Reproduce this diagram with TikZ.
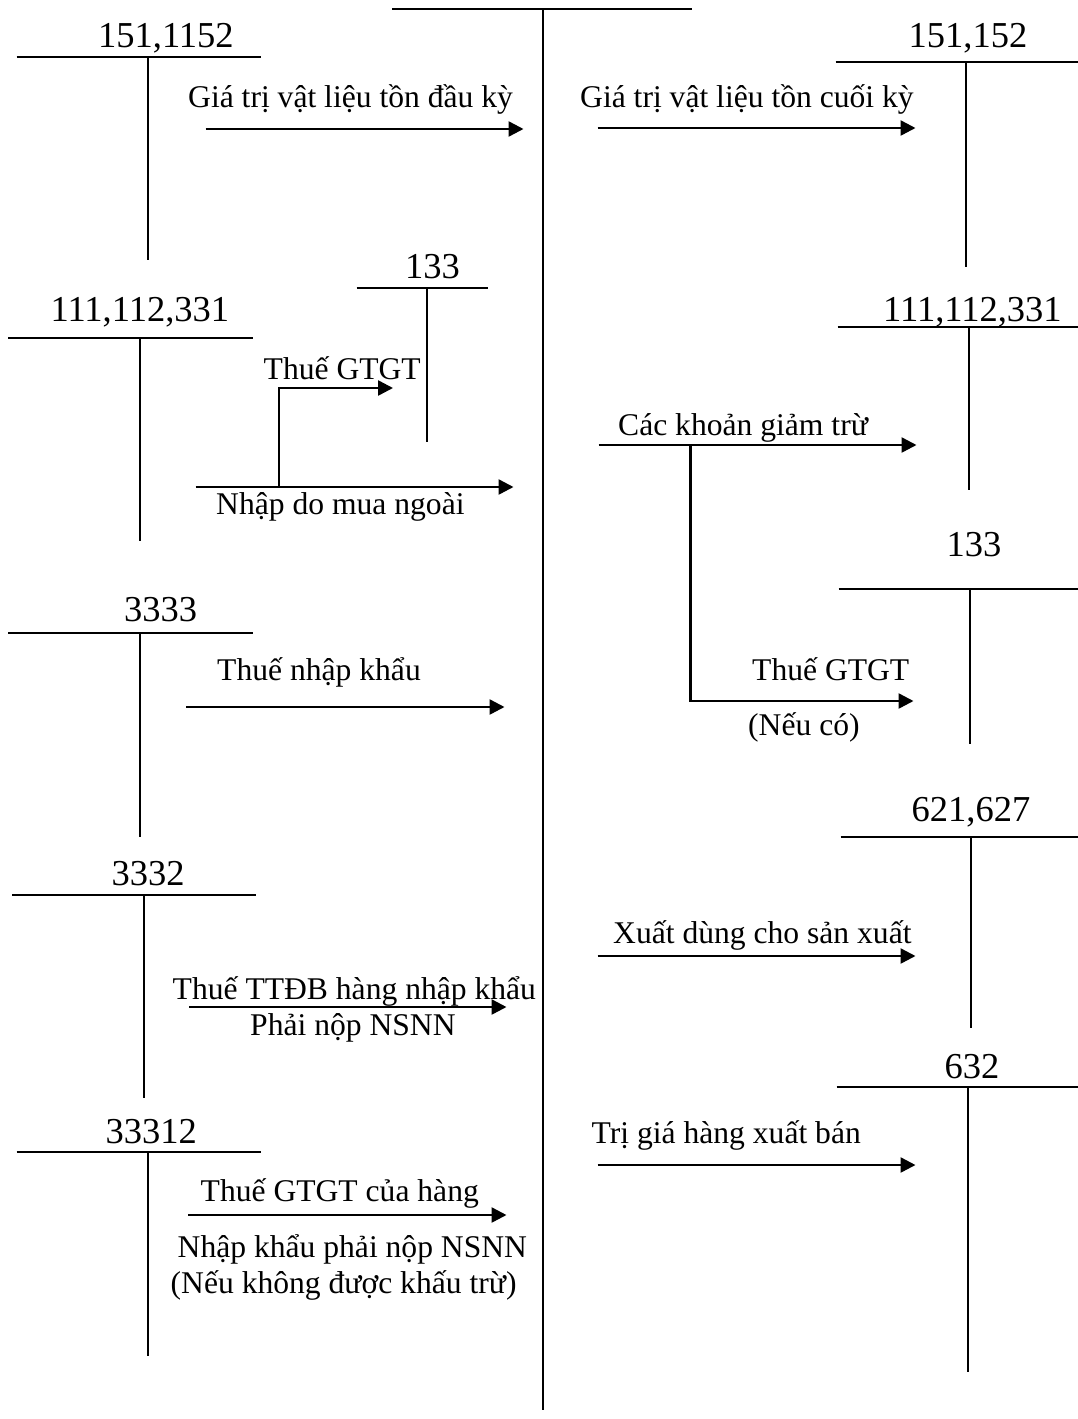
\documentclass[tikz,border=0pt]{standalone}
\usepackage{fontspec}
\setmainfont{Liberation Serif}
\usetikzlibrary{arrows.meta}
\newcommand\Tacct[9]{%
  \node[acct] (#1) at (#2,#3) {#4};
  \coordinate (#1l) at (#5,#7); \coordinate (#1r) at (#6,#7);
  \coordinate (#1t) at (#8,#7); \coordinate (#1b) at (#8,#9);
  \draw[tline] (#1l) -- (#1r);
  \draw[tline] (#1t) -- (#1b);}
\begin{document}
\begin{tikzpicture}[x=1pt,y=-1pt,
  tline/.style={line width=2pt},
  flow/.style={line width=2.5pt,-{Triangle[length=15pt,width=15pt]}},
  acct/.style={font=\fontsize{36.5}{42}\selectfont,inner sep=0pt,anchor=base west},
  lbl/.style={font=\fontsize{31.6}{36}\selectfont,inner sep=0pt,anchor=base west}]
\useasboundingbox (0,0) rectangle (1078,1419);

% centre account
\coordinate (c0l) at (392,9); \coordinate (c0r) at (692,9);
\coordinate (c0t) at (543,9); \coordinate (c0b) at (543,1410);
\draw[tline] (c0l) -- (c0r);
\draw[tline] (c0t) -- (c0b);

% left accounts
\Tacct{A1}{98}{47}{151,1152}{16.5}{260.5}{57}{148}{260}
\Tacct{A2}{405}{278}{133}{356.5}{488}{288}{427}{442}
\Tacct{A3}{50.5}{321}{111,112,331}{8.3}{253}{338}{139.5}{541}
\Tacct{A4}{124}{621}{3333}{8.3}{253}{633}{139.5}{837}
\Tacct{A5}{111.5}{885}{3332}{12.4}{256}{895}{143.6}{1098}
\Tacct{A6}{105.5}{1143}{33312}{16.5}{260.5}{1152}{147.7}{1356}

% right accounts
\Tacct{B1}{908.5}{47}{151,152}{835.5}{1078}{62}{966}{267}
\Tacct{B2}{883}{321}{111,112,331}{837.5}{1078}{327}{969}{490}
\Tacct{B3}{946.5}{556}{133}{838.5}{1078}{589}{970}{744}
\Tacct{B4}{911.5}{821}{621,627}{840.5}{1078}{837}{971}{1028}
\Tacct{B5}{944.5}{1078}{632}{836.5}{1078}{1087}{968}{1372}

% left flows
\coordinate (f1s) at (205.6,129); \coordinate (f1e) at (523.5,129);
\draw[flow] (f1s) -- (f1e);
\node[lbl] (t1) at (188,107) {Giá trị vật liệu tồn đầu kỳ};

\coordinate (f3s) at (195.5,487); \coordinate (f3e) at (513.5,487);
\draw[flow] (f3s) -- (f3e);
\node[lbl] (t3) at (216,514) {Nhập do mua ngoài};
\coordinate (f3b) at (279,487); \coordinate (f3k) at (279,388); \coordinate (f3t) at (393,388);
\draw[flow] (f3b) -- (f3k) -- (f3t);
\node[lbl] (t3b) at (263.5,379) {Thuế GTGT};

\coordinate (f4s) at (186,707); \coordinate (f4e) at (504.5,707);
\draw[flow] (f4s) -- (f4e);
\node[lbl] (t4) at (217,680) {Thuế nhập khẩu};

\coordinate (f5s) at (189,1007); \coordinate (f5e) at (506.5,1007);
\draw[flow] (f5s) -- (f5e);
\node[lbl] (t5a) at (172.5,999) {Thuế TTĐB hàng nhập khẩu};
\node[lbl] (t5b) at (250,1035) {Phải nộp NSNN};

\coordinate (f6s) at (188,1215); \coordinate (f6e) at (506.5,1215);
\draw[flow] (f6s) -- (f6e);
\node[lbl] (t6a) at (200.5,1201) {Thuế GTGT của hàng};
\node[lbl] (t6b) at (177.5,1257) {Nhập khẩu phải nộp NSNN};
\node[lbl] (t6c) at (170.5,1293) {(Nếu không được khấu trừ)};

% right flows
\coordinate (g1s) at (597.5,128); \coordinate (g1e) at (915.5,128);
\draw[flow] (g1s) -- (g1e);
\node[lbl] (u1) at (580,107) {Giá trị vật liệu tồn cuối kỳ};

\coordinate (g2s) at (598.5,445); \coordinate (g2e) at (916.5,445);
\draw[flow] (g2s) -- (g2e);
\node[lbl] (u2) at (618,435) {Các khoản giảm trừ};
\coordinate (g2b) at (690.3,445); \coordinate (g2k) at (690.3,701); \coordinate (g2t) at (913.5,701);
\draw[flow] (g2b) -- (g2k) -- (g2t);
\node[lbl] (u2b) at (752,680) {Thuế GTGT};
\node[lbl] (u2c) at (748,735) {(Nếu có)};

\coordinate (g4s) at (597.5,956); \coordinate (g4e) at (915.5,956);
\draw[flow] (g4s) -- (g4e);
\node[lbl] (u4) at (613,943) {Xuất dùng cho sản xuất};

\coordinate (g5s) at (597.5,1165); \coordinate (g5e) at (915.5,1165);
\draw[flow] (g5s) -- (g5e);
\node[lbl] (u5) at (591.5,1143) {Trị giá hàng xuất bán};
\end{tikzpicture}
\end{document}
